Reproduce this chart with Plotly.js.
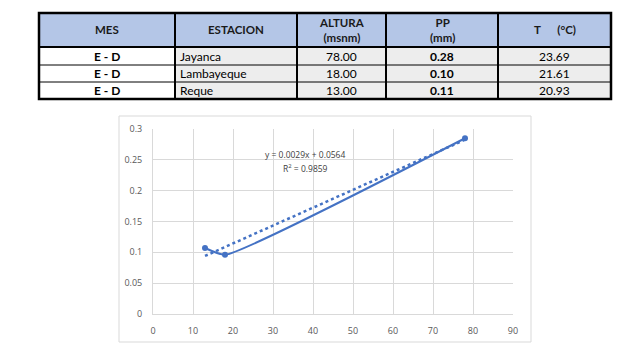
<!DOCTYPE html>
<html>
<head>
<meta charset="utf-8">
<script src="https://cdn.plot.ly/plotly-3.0.1.min.js"></script>
<style>html,body{margin:0;padding:0;background:#fff;}#chart{width:633px;height:353px;}</style>
</head>
<body>
<div id="chart"></div>
<script>
// ---- data ----
var headers = ["MES", "ESTACION", "ALTURA<br>(msnm)", "PP<br>(mm)", "T &nbsp; &nbsp; &nbsp;(°C)"];
var mes = ["E - D", "E - D", "E - D"];
var estacion = ["Jayanca", "Lambayeque", "Reque"];
var altura = [78.00, 18.00, 13.00];
var pp = [0.28, 0.10, 0.11];
var temp = [23.69, 21.61, 20.93];
// plotted precipitation values (as drawn in chart)
var ppPlot = [0.285, 0.096, 0.107];
var trendSlope = 0.0029;
var trendIntercept = 0.0564;
var trendR2 = 0.9859;
var xTicks = [0, 10, 20, 30, 40, 50, 60, 70, 80, 90];
var yTicks = [0, 0.05, 0.1, 0.15, 0.2, 0.25, 0.3];

// ---- layout helpers ----
var W = 633, H = 353;
function px(x){ return x / W; }
function py(y){ return 1 - y / H; }
var colEdges = [39, 175, 297, 386, 498, 611];
var rowEdges = [13, 47, 65, 82, 99];
var FONT = "Lato, 'Open Sans', sans-serif";

var shapes = [];
var annotations = [];

// cell fills
for (var c = 0; c < 5; c++) {
  shapes.push({type:'rect', xref:'paper', yref:'paper', x0:px(colEdges[c]), x1:px(colEdges[c+1]),
    y0:py(rowEdges[1]), y1:py(rowEdges[0]), fillcolor:'#B4C6E7', line:{width:0}, layer:'below'});
  for (var r = 0; r < 3; r++) {
    shapes.push({type:'rect', xref:'paper', yref:'paper', x0:px(colEdges[c]), x1:px(colEdges[c+1]),
      y0:py(rowEdges[r+2]), y1:py(rowEdges[r+1]), fillcolor: c === 0 ? '#FFFFFF' : '#EDEDED', line:{width:0}, layer:'below'});
  }
}
// row lines
for (var r = 2; r < 4; r++) {
  shapes.push({type:'line', xref:'paper', yref:'paper', x0:px(colEdges[0]), x1:px(colEdges[5]),
    y0:py(rowEdges[r]), y1:py(rowEdges[r]), line:{color:'#000', width:1}});
}
shapes.push({type:'line', xref:'paper', yref:'paper', x0:px(colEdges[0]), x1:px(colEdges[5]),
  y0:py(rowEdges[1]), y1:py(rowEdges[1]), line:{color:'#000', width:2}});
// vertical lines
for (var c = 1; c < 5; c++) {
  shapes.push({type:'line', xref:'paper', yref:'paper', x0:px(colEdges[c]), x1:px(colEdges[c]),
    y0:py(rowEdges[4]), y1:py(rowEdges[0]), line:{color:'#000', width:2}});
}
// outer border
shapes.push({type:'rect', xref:'paper', yref:'paper', x0:px(colEdges[0]), x1:px(colEdges[5]),
  y0:py(rowEdges[4]), y1:py(rowEdges[0]), line:{color:'#000', width:2.5}});

// header texts
for (var c = 0; c < 5; c++) {
  annotations.push({xref:'paper', yref:'paper', x:px((colEdges[c]+colEdges[c+1])/2), y:py((rowEdges[0]+rowEdges[1])/2),
    text:'<b>' + headers[c] + '</b>', showarrow:false, font:{family:FONT, size:11.5, color:'#1a1a1a'}, xanchor:'center', yanchor:'middle'});
}
// body texts
for (var r = 0; r < 3; r++) {
  var yc = py((rowEdges[r+1]+rowEdges[r+2])/2);
  var vals = ['<b>' + mes[r] + '</b>', estacion[r], altura[r].toFixed(2), '<b>' + pp[r].toFixed(2) + '</b>', temp[r].toFixed(2)];
  for (var c = 0; c < 5; c++) {
    var left = (c === 1);
    annotations.push({xref:'paper', yref:'paper',
      x: left ? px(colEdges[c] + 3) : px((colEdges[c]+colEdges[c+1])/2), y:yc,
      text: vals[c], showarrow:false, font:{family:FONT, size:12, color:'#000'},
      xanchor: left ? 'left' : 'center', yanchor:'middle'});
  }
}

// chart border
shapes.push({type:'rect', xref:'paper', yref:'paper', x0:px(119), x1:px(531), y0:py(342), y1:py(116),
  line:{color:'#D9D9D9', width:1}, layer:'below'});

// trend annotations
annotations.push({xref:'x', yref:'y', x:38, y:0.258, text:'y = ' + trendSlope + 'x + ' + trendIntercept, showarrow:false,
  font:{family:"'Open Sans', sans-serif", size:8.5, color:'#404040'}, xanchor:'center', yanchor:'middle'});
annotations.push({xref:'x', yref:'y', x:38, y:0.2365, text:'R<sup>2</sup> = ' + trendR2, showarrow:false,
  font:{family:"'Open Sans', sans-serif", size:8.5, color:'#404040'}, xanchor:'center', yanchor:'middle'});

var xMin = Math.min.apply(null, altura), xMax = Math.max.apply(null, altura);
var trendX = [xMin, xMax];
var trendY = trendX.map(function(x){ return trendSlope * x + trendIntercept; });

var traces = [
  {x: trendX, y: trendY, type:'scatter', mode:'lines', line:{color:'#4472C4', width:2.5, dash:'dot'}, hoverinfo:'skip'},
  {x: altura, y: ppPlot, type:'scatter', mode:'lines+markers', line:{color:'#4472C4', width:2, shape:'spline', smoothing:0.45},
   marker:{color:'#4472C4', size:6}}
];

var axisFont = {family:"'Open Sans', sans-serif", size:9, color:'#595959'};
var layout = {
  width: W, height: H,
  margin:{l:0, r:0, t:0, b:0},
  paper_bgcolor:'#fff', plot_bgcolor:'#fff',
  showlegend:false,
  xaxis:{domain:[px(153), px(513)], range:[0, 90], tickvals:xTicks, ticktext:xTicks.map(String),
    showgrid:true, gridcolor:'#D9D9D9', gridwidth:1, zeroline:false, showline:true, linecolor:'#D9D9D9', linewidth:1,
    ticks:'', tickfont:axisFont, ticklabelstandoff:8, fixedrange:true},
  yaxis:{domain:[py(314), py(129)], range:[0, 0.3], tickvals:yTicks, ticktext:yTicks.map(String),
    showgrid:true, gridcolor:'#D9D9D9', gridwidth:1, zeroline:false, showline:true, linecolor:'#D9D9D9', linewidth:1,
    ticks:'', tickfont:axisFont, ticklabelstandoff:8, fixedrange:true},
  shapes: shapes,
  annotations: annotations
};
Plotly.newPlot('chart', traces, layout, {displayModeBar:false, staticPlot:true});
</script>
</body>
</html>
